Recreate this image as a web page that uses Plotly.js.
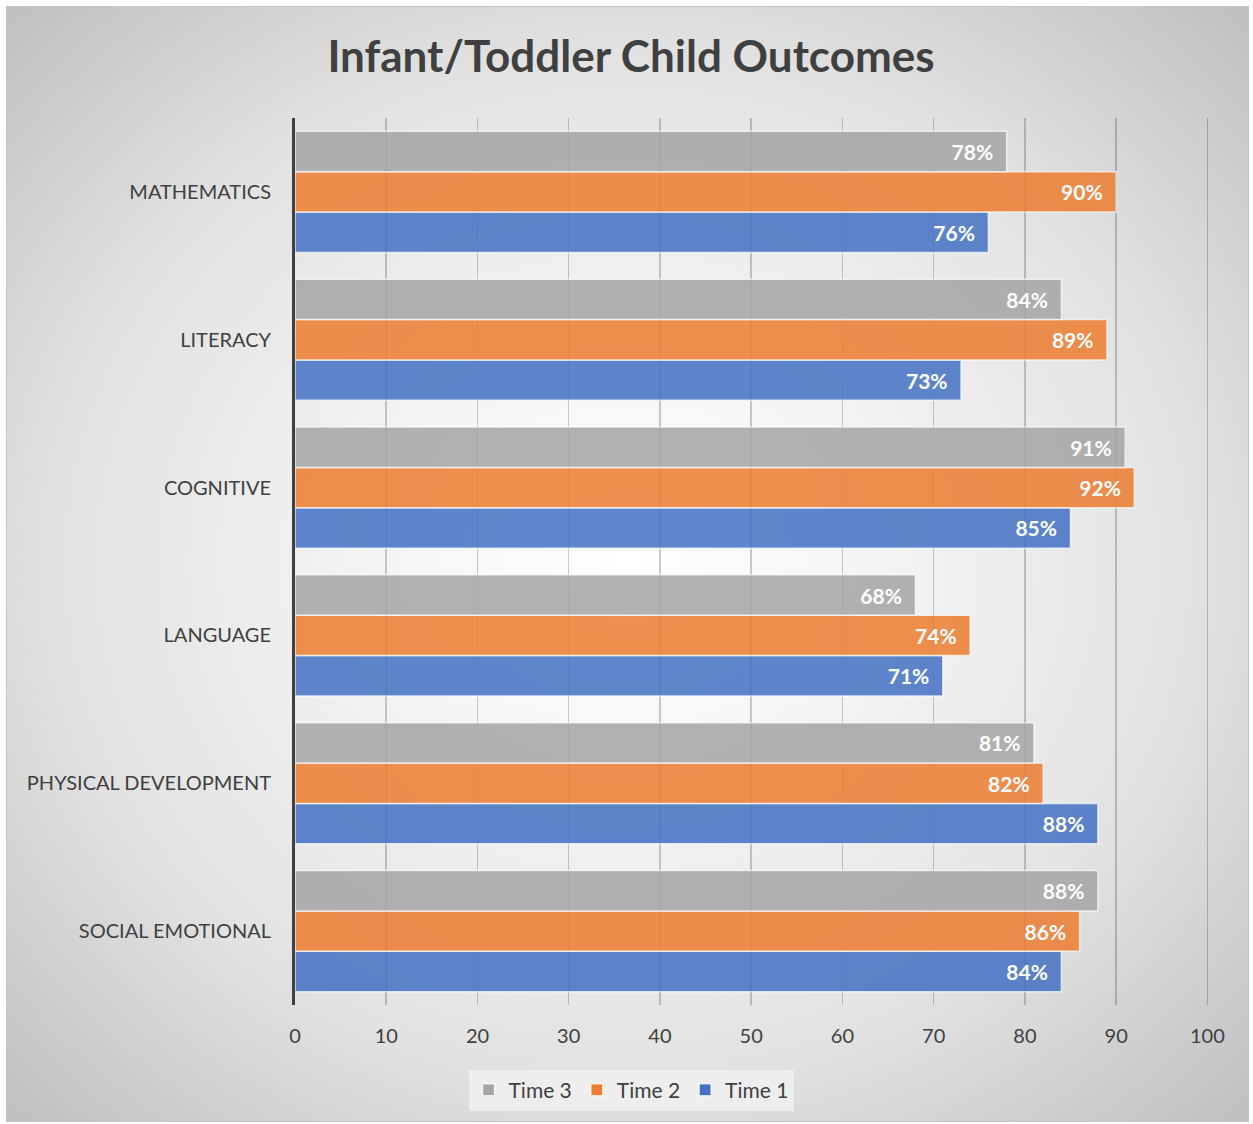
<!DOCTYPE html>
<html>
<head>
<meta charset="utf-8">
<script src="https://cdn.plot.ly/plotly-3.0.1.min.js"></script>
<style>
  html, body { margin: 0; padding: 0; background: #ffffff; }
  #wrap { position: relative; width: 1253px; height: 1124px; overflow: hidden; }
  #bg {
    position: absolute; left: 6px; top: 6px; width: 1241px; height: 1114px;
    border: 1px solid #c4c4c4;
    background: radial-gradient(ellipse farthest-corner at 50% 50%, #ffffff 0%, #f6f6f6 25%, #e2e2e2 65%, #bfbfbf 100%);
  }
  #chart { position: absolute; left: 0; top: 0; width: 1253px; height: 1124px; }
</style>
</head>
<body>
<div id="wrap">
  <div id="bg"></div>
  <div id="chart"></div>
</div>
<script>
// Categories listed bottom-to-top (Plotly places the first category at the bottom)
const categories = ['SOCIAL EMOTIONAL', 'PHYSICAL DEVELOPMENT', 'LANGUAGE', 'COGNITIVE', 'LITERACY', 'MATHEMATICS'];
const time1 = [84, 88, 71, 85, 73, 76];
const time2 = [86, 82, 74, 92, 89, 90];
const time3 = [88, 81, 68, 91, 84, 78];
const seriesNames = ['Time 1', 'Time 2', 'Time 3'];
const seriesColors = ['#4472C4', '#ED7D31', '#A5A5A5'];
const xTicks = [0, 10, 20, 30, 40, 50, 60, 70, 80, 90, 100];

const FONT = 'Lato, "Open Sans", "DejaVu Sans", sans-serif';
const allSeries = [time1, time2, time3];

const traces = allSeries.map((vals, i) => ({
  type: 'bar',
  orientation: 'h',
  name: seriesNames[i],
  y: categories,
  x: vals,
  text: vals.map(v => v + '%\u2002'),
  textposition: 'inside',
  insidetextanchor: 'end',
  textfont: { family: FONT, size: 21, color: '#ffffff', weight: 'bold' },
  marker: { color: seriesColors[i], opacity: 0.85, line: { color: 'rgba(255,255,255,0.75)', width: 1.5 } },
  hoverinfo: 'x+y+name'
}));

const layout = {
  width: 1253,
  height: 1124,
  paper_bgcolor: 'rgba(0,0,0,0)',
  plot_bgcolor: 'rgba(0,0,0,0)',
  margin: { l: 295, r: 42, t: 118, b: 119, pad: 0 },
  barmode: 'group',
  bargap: 0.18,
  bargroupgap: 0,
  title: {
    text: '<b>Infant/Toddler Child Outcomes</b>',
    font: { family: FONT, size: 44, color: '#404040' },
    x: 0.5036, xanchor: 'center', xref: 'container',
    y: 1 - 57 / 1124, yanchor: 'middle', yref: 'container'
  },
  xaxis: {
    range: [0, 100.4],
    tickvals: xTicks,
    ticktext: xTicks.map(String),
    showgrid: true,
    gridcolor: 'rgba(0,0,0,0.2)',
    gridwidth: 1.5,
    zeroline: false,
    showline: false,
    ticks: 'outside',
    ticklen: 13,
    tickcolor: 'rgba(0,0,0,0)',
    tickfont: { family: FONT, size: 20, color: '#404040' },
    fixedrange: true
  },
  yaxis: {
    type: 'category',
    showgrid: false,
    zeroline: false,
    showline: true,
    linecolor: '#404040',
    linewidth: 3,
    ticks: 'outside',
    ticklen: 17,
    tickcolor: 'rgba(0,0,0,0)',
    tickfont: { family: FONT, size: 20, color: '#404040' },
    fixedrange: true
  },
  legend: {
    orientation: 'h',
    traceorder: 'reversed',
    x: (631 - 295) / 916,
    xanchor: 'center',
    y: (1005 - 1090) / 887,
    yanchor: 'middle',
    bgcolor: 'rgba(244,244,244,0.7)',
    font: { family: FONT, size: 21, color: '#404040' },
    itemclick: false,
    itemdoubleclick: false
  },
  showlegend: true
};

Plotly.newPlot('chart', traces, layout, { displayModeBar: false, staticPlot: true });
</script>
</body>
</html>
